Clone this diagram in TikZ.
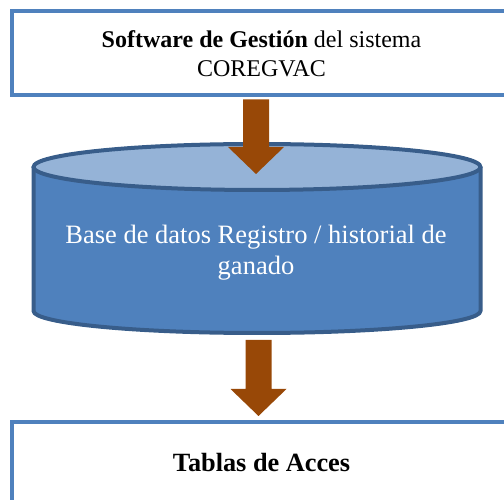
\documentclass[tikz,border=0pt]{standalone}
\usepackage{fontspec}
\setmainfont{Liberation Serif}
\usetikzlibrary{calc}
\definecolor{azulborde}{HTML}{4F81BD}
\definecolor{azultapa}{HTML}{95B3D7}
\definecolor{azuloscuro}{HTML}{385D8A}
\definecolor{cafe}{HTML}{984807}
% flecha de bloque: de (#1) hacia abajo hasta la punta (#2)
\newcommand{\flechabloque}[2]{%
  \fill[cafe] let \p1=(#1), \p2=(#2) in
    (\x2-13,\y1-2) -- (\x2+13,\y1-2) -- (\x2+13,\y2+27) -- (\x2+28,\y2+27)
    -- (\x2,\y2) -- (\x2-28,\y2+27) -- (\x2-13,\y2+27) -- cycle;}

\begin{document}
\begin{tikzpicture}[x=1pt,y=1pt,line width=4pt,
  caja/.style={draw=azulborde,fill=white,minimum width=500pt,align=center}]
\useasboundingbox (0,0) rectangle (504,500);
% ---------- cilindro (base de datos) ----------
\fill[azulborde] (33.5,333) -- (33.5,189)
  arc[start angle=180,end angle=360,x radius=223.5,y radius=22] -- (480.5,333) -- cycle;
\draw[azuloscuro,line join=round] (33.5,333) -- (33.5,189)
  arc[start angle=180,end angle=360,x radius=223.5,y radius=22] -- (480.5,333);
\draw[azuloscuro,fill=azultapa] (257,333) ellipse [x radius=223.5,y radius=23];
\node[text=white,align=center,font=\fontsize{26.5}{31}\selectfont] (bd) at (256,247)
  {Base de datos Registro / historial de\\ganado};
% ---------- cajas ----------
\node[caja,minimum height=84pt,font=\fontsize{24}{29}\selectfont] (sw) at (261.5,446.5)
  {\textbf{Software de Gestión} del sistema\\COREGVAC};
\node[caja,minimum height=81pt,font=\fontsize{26.3}{30}\selectfont\bfseries] (tablas) at (261.5,37)
  {Tablas de Acces};
% ---------- flechas ----------
\coordinate (f1) at (256,326);
\coordinate (c2) at (258.5,162);
\coordinate (f2) at (258.5,84);
\flechabloque{sw.south}{f1}
\flechabloque{c2}{f2}
\end{tikzpicture}
\end{document}
